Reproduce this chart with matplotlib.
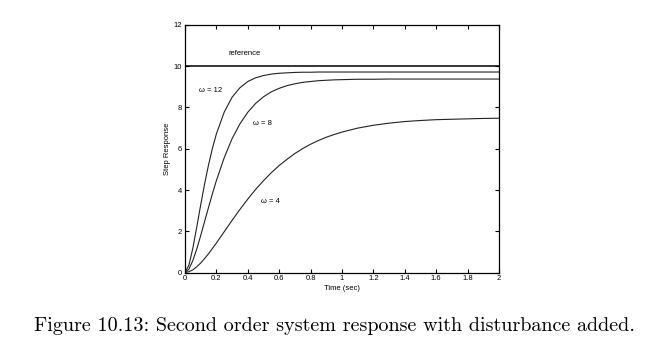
import matplotlib.pyplot as plt

# --- Data ---
time_sec = [0, 0.025, 0.05, 0.075, 0.1, 0.125, 0.15, 0.175, 0.2, 0.25, 0.3, 0.35,
            0.4, 0.45, 0.5, 0.55, 0.6, 0.65, 0.7, 0.75, 0.8, 0.85, 0.9, 0.95, 1.0,
            1.1, 1.2, 1.3, 1.4, 1.5, 1.6, 1.7, 1.8, 1.9, 2.0]
resp_w12 = [0, 0.36, 1.18, 2.21, 3.28, 4.30, 5.22, 6.03, 6.72, 7.78, 8.50, 8.96,
            9.26, 9.44, 9.55, 9.62, 9.66, 9.68, 9.70, 9.71, 9.71, 9.72, 9.72, 9.72, 9.72,
            9.72, 9.72, 9.72, 9.72, 9.72, 9.72, 9.72, 9.72, 9.72, 9.72]
resp_w8 = [0, 0.16, 0.58, 1.14, 1.79, 2.48, 3.16, 3.83, 4.46, 5.57, 6.49, 7.21,
           7.77, 8.20, 8.52, 8.76, 8.93, 9.06, 9.15, 9.22, 9.26, 9.30, 9.32, 9.34, 9.35,
           9.37, 9.37, 9.38, 9.38, 9.38, 9.38, 9.38, 9.38, 9.38, 9.38]
resp_w4 = [0, 0.04, 0.13, 0.28, 0.46, 0.68, 0.91, 1.17, 1.43, 1.98, 2.53, 3.06,
           3.56, 4.03, 4.45, 4.84, 5.19, 5.49, 5.77, 6.01, 6.22, 6.40, 6.56, 6.69, 6.81,
           7.00, 7.14, 7.24, 7.32, 7.37, 7.41, 7.43, 7.45, 7.47, 7.48]
ref_t = [0, 2]
ref_val = [10, 10]

x_ticks = [0, 0.2, 0.4, 0.6, 0.8, 1, 1.2, 1.4, 1.6, 1.8, 2]
x_tick_labels = ['0', '0.2', '0.4', '0.6', '0.8', '1', '1.2', '1.4', '1.6', '1.8', '2']
y_ticks = [0, 2, 4, 6, 8, 10, 12]

# --- Plotting ---
plt.rcParams['font.family'] = ['Liberation Sans', 'DejaVu Sans']
fig = plt.figure(figsize=(6.6, 3.51), dpi=100)
ax = fig.add_axes([0.2803, 0.2236, 0.4758, 0.7052])

ax.plot(ref_t, ref_val, color='black', lw=1.1)
for resp in (resp_w12, resp_w8, resp_w4):
    ax.plot(time_sec, resp, color='#222222', lw=0.8)

ax.set_xlim(0, 2)
ax.set_ylim(0, 12)
ax.set_xticks(x_ticks)
ax.set_xticklabels(x_tick_labels)
ax.set_yticks(y_ticks)
ax.tick_params(direction='in', length=3, width=0.8, labelsize=5.5, pad=2,
               top=True, right=True)
for sp in ax.spines.values():
    sp.set_linewidth(0.9)

ax.set_xlabel('Time (sec)', fontsize=5.5, labelpad=2)
ax.set_ylabel('Step Response', fontsize=5.5, labelpad=2)

# curve annotations
txt = dict(fontsize=5.5, color='black')
ax.text(0.378, 10.6, 'reference', ha='center', va='center', **txt)
ax.text(0.09, 8.8, '\u03c9 = 12', ha='left', va='center', **txt)
ax.text(0.43, 7.22, '\u03c9 = 8', ha='left', va='center', **txt)
ax.text(0.485, 3.44, '\u03c9 = 4', ha='left', va='center', **txt)

fig.text(0.506, 1 - 326 / 351, 'Figure 10.13: Second order system response with disturbance added.',
         ha='center', va='center', fontsize=14.5, family='cmr10')

fig.savefig('out.png', dpi=100)
